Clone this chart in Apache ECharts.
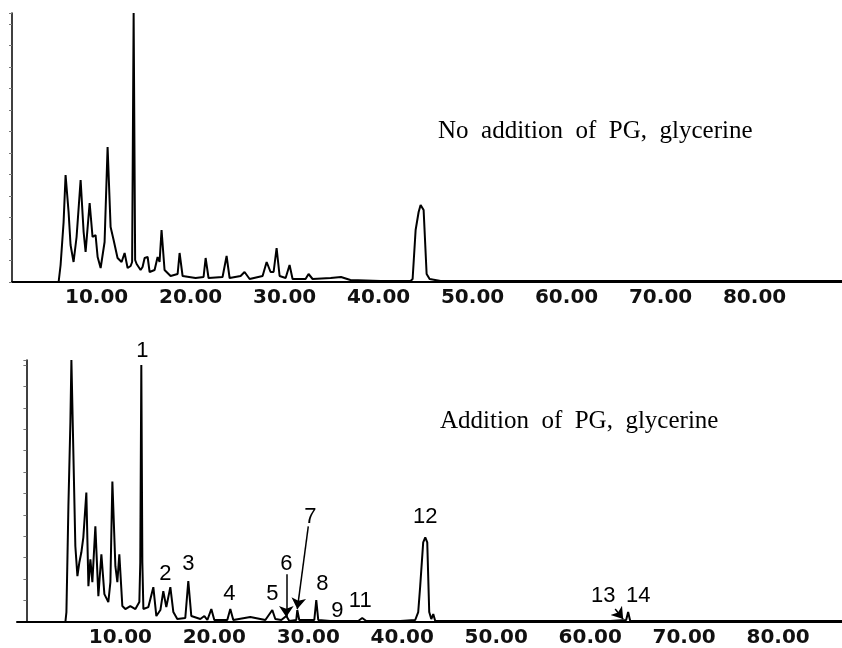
<!DOCTYPE html>
<html>
<head>
<meta charset="utf-8">
<script src="https://cdn.jsdelivr.net/npm/echarts@6/dist/echarts.min.js"></script>
<style>
  html, body { margin: 0; padding: 0; background: #fff; }
  #main { width: 842px; height: 648px; }
</style>
</head>
<body>
<div id="main"></div>
<script>
// retention time (min) / abundance
const topTime = [1.0, 5.96, 6.17, 6.49, 6.70, 7.02, 7.23, 7.55, 7.87, 8.30, 8.62, 8.83, 9.26, 9.57, 9.89, 10.11,
  10.43, 10.85, 11.17, 11.49, 11.81, 12.23, 12.66, 12.98, 13.30, 13.62, 13.78, 13.94, 14.10, 14.26, 14.68, 14.89,
  15.11, 15.43, 15.64, 16.17, 16.49, 16.70, 16.91, 17.23, 17.87, 18.62, 18.83, 19.15, 20.53, 21.38, 21.60, 21.91,
  23.40, 23.83, 24.15, 25.32, 25.74, 26.28, 27.66, 28.09, 28.51, 28.83, 29.15, 29.47, 30.11, 30.53, 30.85, 32.23,
  32.55, 32.98, 34.9, 36.0, 37.0, 40.2, 43.4, 43.62, 43.94, 44.26, 44.47, 44.79, 45.11, 45.43, 46.6, 89.3]
const topSignal = [0, 0, 17, 60, 107, 70, 37, 20, 45, 102, 50, 30, 79, 45, 47, 25,
  14, 40, 135, 55, 42, 24, 20, 29, 14, 16, 20, 269, 22, 18, 12, 15,
  24, 25, 10, 12, 25, 20, 52, 12, 6, 8, 29, 6, 4, 5, 24, 4,
  5, 26, 4, 6, 10, 3, 6, 20, 10, 10, 34, 6, 4, 17, 3, 3,
  8, 3, 4, 5, 2, 1, 1, 3, 52, 70, 77, 72, 8, 3, 1, 1]

const bottomTime = [-1.0, 4.15, 4.26, 4.36, 4.47, 4.68, 4.79, 5.0, 5.21, 5.43, 5.64, 5.85, 6.06, 6.38, 6.60, 6.81,
  7.02, 7.34, 7.66, 7.98, 8.30, 8.72, 8.94, 9.15, 9.47, 9.68, 9.89, 10.21, 10.53, 11.06, 11.60, 12.02,
  12.12, 12.23, 12.34, 12.45, 12.98, 13.51, 13.83, 14.26, 14.57, 14.89, 15.32, 15.64, 16.06, 16.91, 17.23, 17.55,
  18.51, 18.94, 19.26, 19.68, 20.00, 21.38, 21.70, 22.02, 23.83, 25.43, 26.17, 26.49, 27.13, 27.66, 27.98, 28.72,
  28.83, 29.04, 30.64, 30.85, 31.06, 32.34, 35.32, 35.74, 36.17, 39.79, 41.38, 41.70, 41.91, 42.23, 42.45, 42.66,
  42.87, 43.09, 43.30, 43.51, 62.13, 63.83, 64.04, 64.26, 86.8]
const bottomSignal = [0, 0, 10, 60, 116, 200, 263, 263, 76, 46, 60, 70, 85, 130, 36, 63,
  40, 96, 26, 68, 28, 20, 40, 141, 56, 40, 68, 16, 13, 16, 13, 20,
  60, 258, 60, 13, 15, 35, 6, 12, 31, 15, 35, 10, 3, 4, 41, 6,
  3, 6, 2, 13, 2, 2, 13, 2, 5, 2, 12, 3, 2, 6, 1, 2,
  12, 2, 2, 22, 2, 1, 1, 4, 1, 1, 2, 10, 36, 80, 85, 80,
  10, 3, 8, 1, 1, 2, 10, 1, 1]

const tickValues = [10, 20, 30, 40, 50, 60, 70, 80]

// peak numbers of the lower trace
const peakLabels = ['1', '2', '3', '4', '5', '6', '7', '8', '9', '11', '12', '13', '14']
const peakLabelTime = [12.34, 14.79, 17.23, 21.6, 26.17, 27.66, 30.21, 31.49, 33.09, 35.53, 42.45, 61.38, 65.11]
const peakLabelHeight = [272, 48, 58, 28, 28, 58, 105, 38, 11, 21, 105, 26, 26]

// arrows: [time, height] start -> end
const arrowFrom = [[27.66, 48], [30.0, 96], [62.66, 13]]
const arrowTo = [[27.66, 5], [28.83, 13], [63.51, 3]]

const zip = (a, b) => a.map((v, i) => [v, b[i]])

const chart = echarts.init(document.getElementById('main'))

const xAxisBase = {
  type: 'value',
  position: 'bottom',
  splitLine: { show: false },
  axisTick: { show: false },
  axisLine: { show: true, onZero: false, lineStyle: { color: '#000', width: 2 } },
  axisLabel: {
    customValues: tickValues,
    formatter: v => v.toFixed(2),
    color: '#111',
    fontFamily: 'DejaVu Sans',
    fontWeight: 'bold',
    fontSize: 20,
    margin: 6
  }
}
const yAxisBase = {
  type: 'value',
  min: 0,
  interval: 21.5,
  splitLine: { show: false },
  axisLabel: { show: false },
  axisLine: { show: true, lineStyle: { color: '#000', width: 1.5 } },
  axisTick: { show: true, length: 3, lineStyle: { color: '#777', width: 1 } }
}

const option = {
  animation: false,
  backgroundColor: '#fff',
  grid: [
    { left: 12, right: 0, top: 13, height: 269 },
    { left: 17, right: 0, top: 360, height: 263 }
  ],
  xAxis: [
    Object.assign({}, xAxisBase, { gridIndex: 0, min: 1, max: 89.3 }),
    Object.assign({}, xAxisBase, { gridIndex: 1, min: -1, max: 86.8 })
  ],
  yAxis: [
    Object.assign({}, yAxisBase, { gridIndex: 0, max: 269 }),
    Object.assign({}, yAxisBase, { gridIndex: 1, max: 263 })
  ],
  graphic: [
    {
      type: 'text',
      style: {
        text: 'No  addition  of  PG,  glycerine',
        x: 438, y: 131,
        font: '25px "Liberation Serif"',
        fill: '#000',
        textVerticalAlign: 'middle'
      }
    },
    {
      type: 'text',
      style: {
        text: 'Addition  of  PG,  glycerine',
        x: 440, y: 421,
        font: '25px "Liberation Serif"',
        fill: '#000',
        textVerticalAlign: 'middle'
      }
    }
  ],
  series: [
    {
      type: 'line',
      xAxisIndex: 0,
      yAxisIndex: 0,
      showSymbol: false,
      lineStyle: { color: '#000', width: 2 },
      data: zip(topTime, topSignal)
    },
    {
      type: 'line',
      xAxisIndex: 1,
      yAxisIndex: 1,
      showSymbol: false,
      lineStyle: { color: '#000', width: 2 },
      data: zip(bottomTime, bottomSignal)
    },
    {
      type: 'scatter',
      xAxisIndex: 1,
      yAxisIndex: 1,
      clip: false,
      symbolSize: 0,
      itemStyle: { opacity: 1 },
      label: {
        show: true,
        position: 'inside',
        formatter: p => p.value[2],
        color: '#000',
        opacity: 1,
        fontFamily: 'Liberation Sans',
        fontSize: 22
      },
      data: peakLabels.map((l, i) => [peakLabelTime[i], peakLabelHeight[i], l])
    },
    {
      type: 'lines',
      coordinateSystem: 'cartesian2d',
      xAxisIndex: 1,
      yAxisIndex: 1,
      symbol: ['none', 'arrow'],
      symbolSize: 11,
      lineStyle: { color: '#000', width: 1.5, opacity: 1 },
      data: arrowFrom.map((c, i) => ({ coords: [c, arrowTo[i]] }))
    }
  ]
}
chart.setOption(option)
</script>
</body>
</html>
